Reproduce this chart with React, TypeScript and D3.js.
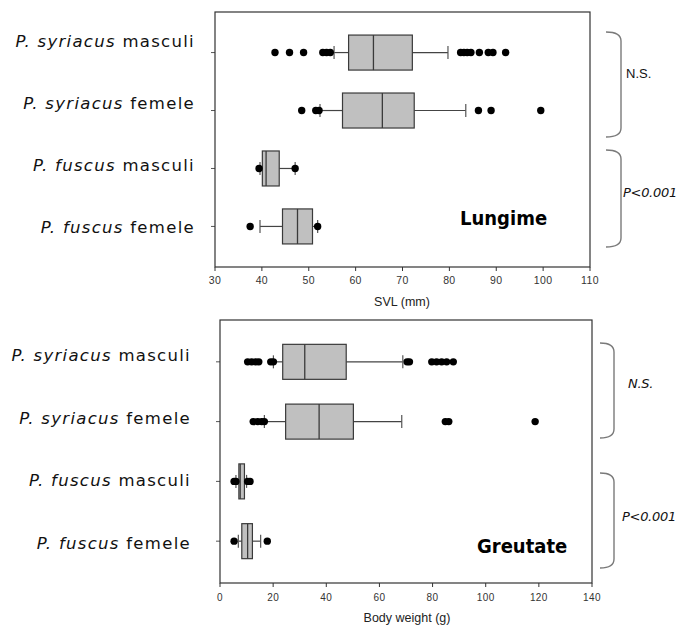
import React from "react";
import * as d3 from "d3";

// ---------- DATA ----------
const species = ["P. syriacus", "P. syriacus", "P. fuscus", "P. fuscus"];
const sexes = ["masculi", "femele", "masculi", "femele"];

// SVL (mm)
const svlWhiskerLow = [55.4, 52.4, 39.6, 39.6];
const svlQ1 = [58.5, 57.2, 40.1, 44.4];
const svlMedian = [63.8, 65.7, 40.9, 47.6];
const svlQ3 = [72.1, 72.5, 43.7, 50.8];
const svlWhiskerHigh = [79.7, 83.5, 47.1, 51.9];
const svlOutliers = [
  [42.8, 45.9, 48.9, 53.0, 53.8, 54.6, 82.4, 83.1, 83.8, 84.6, 86.4, 88.3, 89.3, 92.0],
  [48.5, 51.5, 52.2, 86.2, 88.9, 99.5],
  [39.4, 47.1],
  [37.5, 51.9],
];
const svlTicks = [30, 40, 50, 60, 70, 80, 90, 100, 110];

// Body weight (g)
const wWhiskerLow = [20.1, 16.7, 6.0, 6.9];
const wQ1 = [23.6, 24.7, 7.1, 8.2];
const wMedian = [31.9, 37.3, 7.6, 10.4];
const wQ3 = [47.5, 50.2, 9.2, 12.2];
const wWhiskerHigh = [68.8, 68.4, 10.0, 15.3];
const wOutliers = [
  [10.4, 11.9, 13.4, 14.6, 19.1, 20.1, 70.4, 71.3, 79.7, 81.5, 83.4, 85.3, 87.8],
  [12.5, 14.2, 15.7, 16.7, 84.8, 86.1, 118.6],
  [5.3, 6.0, 10.4, 11.3],
  [5.3, 17.8],
];
const wTicks = [0, 20, 40, 60, 80, 100, 120, 140];

const svlTitle = "SVL (mm)";
const wTitle = "Body weight (g)";
const svlPanelLabel = "Lungime";
const wPanelLabel = "Greutate";
const sigLabels = ["N.S.", "P<0.001"];

type PanelProps = {
  left: number; right: number; top: number; bottom: number;
  domain: [number, number];
  ticks: number[];
  wl: number[]; q1: number[]; med: number[]; q3: number[]; wh: number[];
  outliers: number[][];
  labelRange: [number, number];
  labelRight: number;
  title: string; titleX: number; titleY: number;
  tickLabelY: number; tickFont: number;
  panelLabel: string; panelLabelX: number; panelLabelY: number;
  bracketLeft: number; bracketRight: number;
  brackets: [number, number][];
  sigX: number[]; sigY: number[]; sigItalic: boolean[];
};

function Bracket({ x0, x1, y0, y1 }: { x0: number; x1: number; y0: number; y1: number }) {
  const r = 9;
  const p = d3.path();
  p.moveTo(x0, y0);
  p.quadraticCurveTo(x1, y0, x1, y0 + r);
  p.lineTo(x1, y1 - r);
  p.quadraticCurveTo(x1, y1, x0, y1);
  return <path d={p.toString()} fill="none" stroke="#7a7a7a" strokeWidth={1.4} />;
}

function Panel(props: PanelProps) {
  const x = d3.scaleLinear().domain(props.domain).range([props.left, props.right]);
  const y = d3.scaleLinear().domain([0.3, 4.7]).range([props.top, props.bottom]);
  const labelY = d3.scaleLinear().domain([1, 4]).range(props.labelRange);
  const half = 17.5;
  const cap = 6.5;
  const rows = [0, 1, 2, 3];
  return (
    <g>
      {rows.map((i) => (
        <text key={"l" + i} x={props.labelRight} y={labelY(i + 1)} textAnchor="end"
          fontFamily="'DejaVu Sans', sans-serif" fontSize={16.5} letterSpacing={1.3} fill="#111">
          <tspan fontStyle="italic">{species[i]}</tspan>
          <tspan> {sexes[i]}</tspan>
        </text>
      ))}
      {rows.map((i) => (
        <line key={"yt" + i} x1={props.left - 4} x2={props.left} y1={y(i + 1)} y2={y(i + 1)} stroke="#555" strokeWidth={1} />
      ))}
      {rows.map((i) => {
        const cy = y(i + 1);
        return (
          <g key={"b" + i}>
            <line x1={x(props.wl[i])} x2={x(props.q1[i])} y1={cy} y2={cy} stroke="#444" strokeWidth={1.2} />
            <line x1={x(props.q3[i])} x2={x(props.wh[i])} y1={cy} y2={cy} stroke="#444" strokeWidth={1.2} />
            <line x1={x(props.wl[i])} x2={x(props.wl[i])} y1={cy - cap} y2={cy + cap} stroke="#555" strokeWidth={1.2} />
            <line x1={x(props.wh[i])} x2={x(props.wh[i])} y1={cy - cap} y2={cy + cap} stroke="#555" strokeWidth={1.2} />
            <rect x={x(props.q1[i])} y={cy - half} width={x(props.q3[i]) - x(props.q1[i])} height={half * 2}
              fill="#c0c0c0" stroke="#3a3a3a" strokeWidth={1.2} />
            <line x1={x(props.med[i])} x2={x(props.med[i])} y1={cy - half} y2={cy + half} stroke="#3a3a3a" strokeWidth={1.3} />
            {props.outliers[i].map((v, j) => (
              <circle key={j} cx={x(v)} cy={cy} r={3.7} fill="#000" />
            ))}
          </g>
        );
      })}
      <rect x={props.left} y={props.top} width={props.right - props.left} height={props.bottom - props.top}
        fill="none" stroke="#333" strokeWidth={1.2} />
      {props.ticks.map((t) => (
        <g key={"xt" + t}>
          <line x1={x(t)} x2={x(t)} y1={props.bottom} y2={props.bottom + 4} stroke="#333" strokeWidth={1} />
          <text x={x(t)} y={props.tickLabelY} textAnchor="middle" fontFamily="'Liberation Sans', Arial, sans-serif"
            fontSize={props.tickFont} letterSpacing={0.4} fill="#333">{t}</text>
        </g>
      ))}
      <text x={props.titleX} y={props.titleY} textAnchor="middle" fontFamily="'Liberation Sans', Arial, sans-serif"
        fontSize={12.5} fill="#222">{props.title}</text>
      <text x={props.panelLabelX} y={props.panelLabelY} fontFamily="'DejaVu Sans Condensed', 'DejaVu Sans', sans-serif"
        fontWeight="bold" fontSize={20} fill="#000">{props.panelLabel}</text>
      {props.brackets.map((b, k) => (
        <Bracket key={"br" + k} x0={props.bracketLeft} x1={props.bracketRight} y0={b[0]} y1={b[1]} />
      ))}
      {sigLabels.map((s, k) => (
        <text key={"s" + k} x={props.sigX[k]} y={props.sigY[k]}
          fontFamily={props.sigItalic[k] ? "'DejaVu Sans', sans-serif" : "'Liberation Sans', Arial, sans-serif"}
          fontStyle={props.sigItalic[k] ? "italic" : "normal"}
          fontSize={props.sigItalic[k] ? 13 : 13} letterSpacing={props.sigItalic[k] ? -0.3 : 0} fill="#111">{s}</text>
      ))}
    </g>
  );
}

export default function App() {
  return (
    <svg width={691} height={625} style={{ position: "absolute", left: 0, top: 0, background: "#fff" }}>
      <rect x={0} y={0} width={691} height={625} fill="#fff" />
      <Panel
        left={215} right={590} top={12} bottom={267}
        domain={[30, 110]} ticks={svlTicks}
        wl={svlWhiskerLow} q1={svlQ1} med={svlMedian} q3={svlQ3} wh={svlWhiskerHigh} outliers={svlOutliers}
        labelRange={[47, 233]} labelRight={195}
        title={svlTitle} titleX={402} titleY={306}
        tickLabelY={284} tickFont={10.5}
        panelLabel={svlPanelLabel} panelLabelX={460} panelLabelY={225}
        bracketLeft={606} bracketRight={621}
        brackets={[[32, 137], [150, 247]]}
        sigX={[626, 623]} sigY={[78, 197]} sigItalic={[false, true]}
      />
      <Panel
        left={220} right={592} top={320} bottom={583}
        domain={[0, 140]} ticks={wTicks}
        wl={wWhiskerLow} q1={wQ1} med={wMedian} q3={wQ3} wh={wWhiskerHigh} outliers={wOutliers}
        labelRange={[361, 549]} labelRight={191}
        title={wTitle} titleX={407} titleY={622}
        tickLabelY={601} tickFont={10}
        panelLabel={wPanelLabel} panelLabelX={477} panelLabelY={553}
        bracketLeft={600} bracketRight={614}
        brackets={[[343, 438], [473, 568]]}
        sigX={[628, 622]} sigY={[388, 521]} sigItalic={[true, true]}
      />
    </svg>
  );
}
